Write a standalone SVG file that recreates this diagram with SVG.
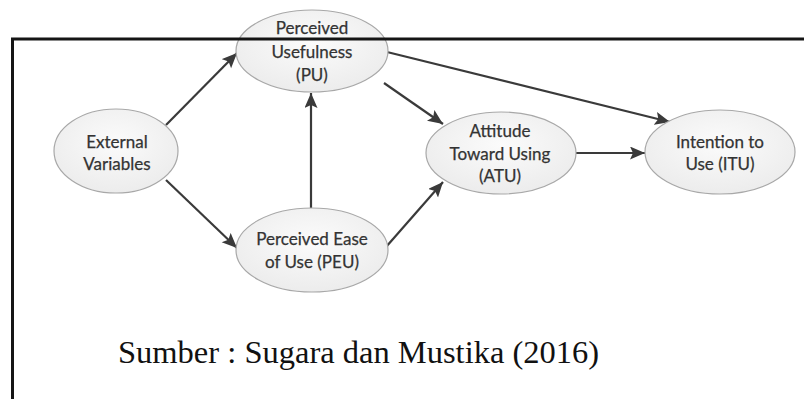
<svg xmlns="http://www.w3.org/2000/svg" width="804" height="399" viewBox="0 0 804 399">
<style>
.node ellipse{fill:url(#g);stroke:#a8a8a8;stroke-width:1.2}
.node text{font-family:Lato,"Liberation Sans",sans-serif;font-size:17px;fill:#333;stroke:#333;stroke-width:0.25;text-anchor:middle}
.conn line{stroke:#3a3a3a;stroke-width:2.2;marker-end:url(#ah)}
.frame{stroke:#151515;stroke-width:3;fill:none}
.cap{font-family:"Liberation Serif","Times New Roman",serif;font-size:32.5px;fill:#111}
</style>
<defs>
<radialGradient id="g" cx="0.5" cy="0.4" r="0.6">
<stop offset="0" stop-color="#fbfbfb"/>
<stop offset="1" stop-color="#ececec"/>
</radialGradient>
<marker id="ah" markerUnits="userSpaceOnUse" markerWidth="16" markerHeight="14" refX="15" refY="6.5" orient="auto">
<path d="M0,0 L15,6.5 L0,13 L3,6.5 z" fill="#3a3a3a"/>
</marker>
</defs>
<rect width="804" height="399" fill="#fff"/>
<g id="connectors" class="conn">
<line x1="166" y1="125" x2="237" y2="53"/>
<line x1="166" y1="180" x2="237" y2="248"/>
<line x1="311" y1="208" x2="311" y2="93"/>
<line x1="384" y1="83" x2="443" y2="124"/>
<line x1="387" y1="52" x2="670" y2="122"/>
<line x1="386" y1="247" x2="443" y2="182"/>
<line x1="576" y1="153" x2="645" y2="153"/>
</g>
<g id="PU" class="node">
<ellipse cx="312" cy="51" rx="76" ry="41"/>
<text x="312" y="34">Perceived</text>
<text x="312" y="58">Usefulness</text>
<text x="312" y="81">(PU)</text>
</g>
<g id="EV" class="node">
<ellipse cx="116" cy="151" rx="62" ry="42"/>
<text x="117" y="148">External</text>
<text x="117" y="170">Variables</text>
</g>
<g id="PEU" class="node">
<ellipse cx="312" cy="250" rx="76" ry="42"/>
<text x="312" y="245">Perceived Ease</text>
<text x="312" y="268">of Use (PEU)</text>
</g>
<g id="ATU" class="node">
<ellipse cx="501" cy="153" rx="75" ry="41"/>
<text x="500" y="137">Attitude</text>
<text x="500" y="160">Toward Using</text>
<text x="500" y="182">(ATU)</text>
</g>
<g id="ITU" class="node">
<ellipse cx="720" cy="152" rx="75" ry="42"/>
<text x="720" y="148">Intention to</text>
<text x="720" y="170">Use (ITU)</text>
</g>
<path class="frame" d="M12.5,399 V39 H804"/>
<text class="cap" x="118" y="363">Sumber : Sugara dan Mustika (2016)</text>
</svg>
